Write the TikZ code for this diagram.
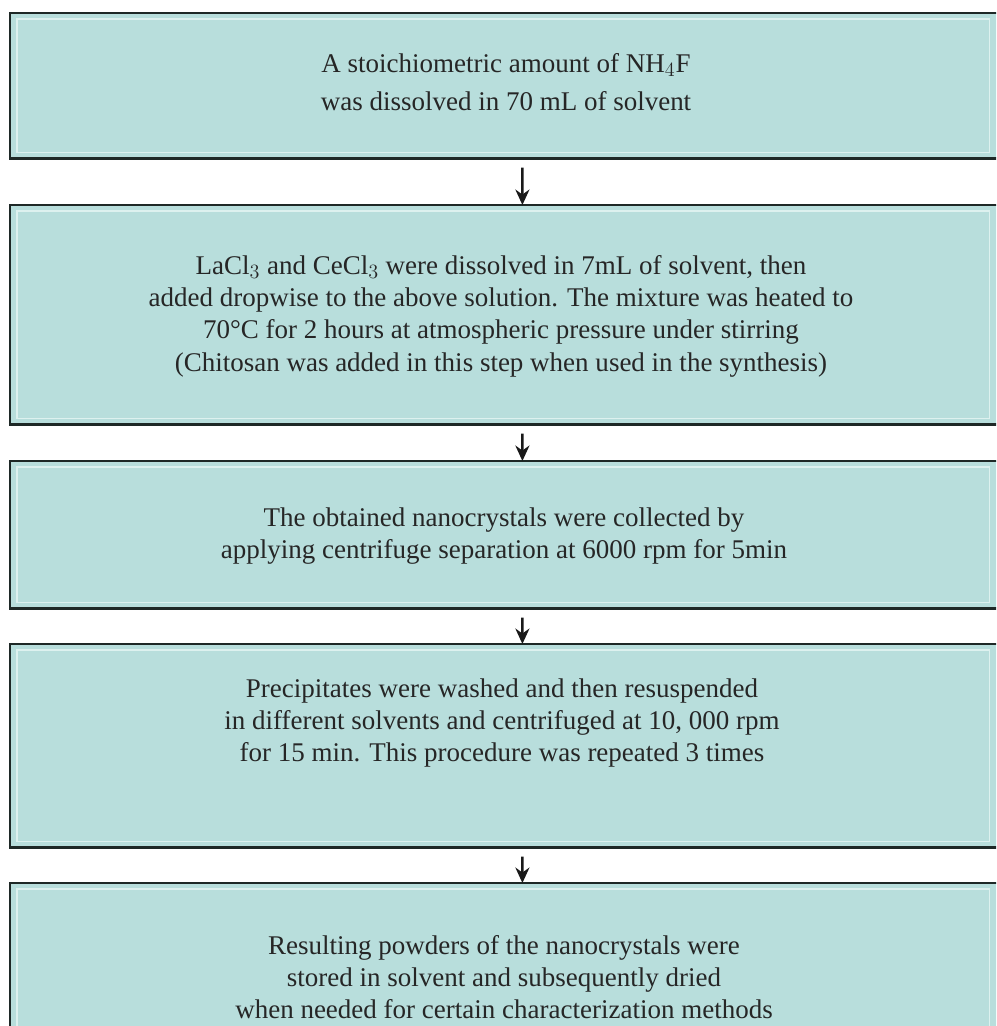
\documentclass[tikz,border=0pt]{standalone}
\usepackage{fontspec}
\setmainfont{Liberation Serif}
\usetikzlibrary{arrows.meta}
\definecolor{BoxTeal}{HTML}{B8DEDC}
\definecolor{BoxRim}{HTML}{1E2826}
\definecolor{BoxInner}{HTML}{DDF1EF}

\begin{document}
\begin{tikzpicture}[x=0.025cm, y=-0.025cm,
    stepbox/.style={fill=BoxTeal, draw=none, minimum width=24.75cm, anchor=north west, inner sep=0pt},
    steptext/.style={align=center, font=\fontsize{19.2}{23}\selectfont, text=black!85},
    rimline/.style={BoxRim, line width=1.6pt},
    innerline/.style={BoxInner, line width=0.8pt},
    flowarrow/.style={-{Stealth[length=11pt, width=10pt]}, line width=1.7pt, black!90}]
    \useasboundingbox (0,0) rectangle (996,1026);
    \clip (0,0) rectangle (996,1026);

    % Step boxes
    \node[stepbox, minimum height=3.625cm] (b1) at (10,13) {};
    \node[stepbox, minimum height=5.475cm] (b2) at (10,205) {};
    \node[stepbox, minimum height=3.675cm] (b3) at (10,461) {};
    \node[stepbox, minimum height=5.075cm] (b4) at (10,644) {};
    \node[stepbox, minimum height=4.25cm] (b5) at (10,883) {};

    % Frame of each box
    \foreach \b in {b1,b2,b3,b4,b5} {
        \draw[innerline] ([shift={(7,6)}]\b.north west) rectangle ([shift={(-11,-6)}]\b.south east);
        \draw[rimline] (\b.north east) -- (\b.north west) -- (\b.south west) -- (\b.south east);
    }

    % Texts
    \node[steptext] (t1) at (506,82) {A stoichiometric amount of NH$_4$F\\[4pt]was dissolved in 70 mL of solvent};
    \node[steptext] (t2) at (501,316) {LaCl$_3$ and CeCl$_3$ were dissolved in 7mL of solvent, then\\added dropwise to the above solution. The mixture was heated to\\70°C for 2 hours at atmospheric pressure under stirring\\(Chitosan was added in this step when used in the synthesis)};
    \node[steptext] (t3) at (504,536) {The obtained nanocrystals were collected by\\applying centrifuge separation at 6000 rpm for 5min};
    \node[steptext] (t4) at (502,723) {Precipitates were washed and then resuspended\\in different solvents and centrifuged at 10, 000 rpm\\for 15 min. This procedure was repeated 3 times};
    \node[steptext] (t5) at (504,977) {Resulting powders of the nanocrystals were\\stored in solvent and subsequently dried\\when needed for certain characterization methods};

    % Arrows between steps
    \draw[flowarrow] ([shift={(17,9)}]b1.south) -- ([xshift=0.425cm]b2.north);
    \draw[flowarrow] ([shift={(17,9)}]b2.south) -- ([xshift=0.425cm]b3.north);
    \draw[flowarrow] ([shift={(17,9)}]b3.south) -- ([xshift=0.425cm]b4.north);
    \draw[flowarrow] ([shift={(17,9)}]b4.south) -- ([xshift=0.425cm]b5.north);
\end{tikzpicture}
\end{document}
